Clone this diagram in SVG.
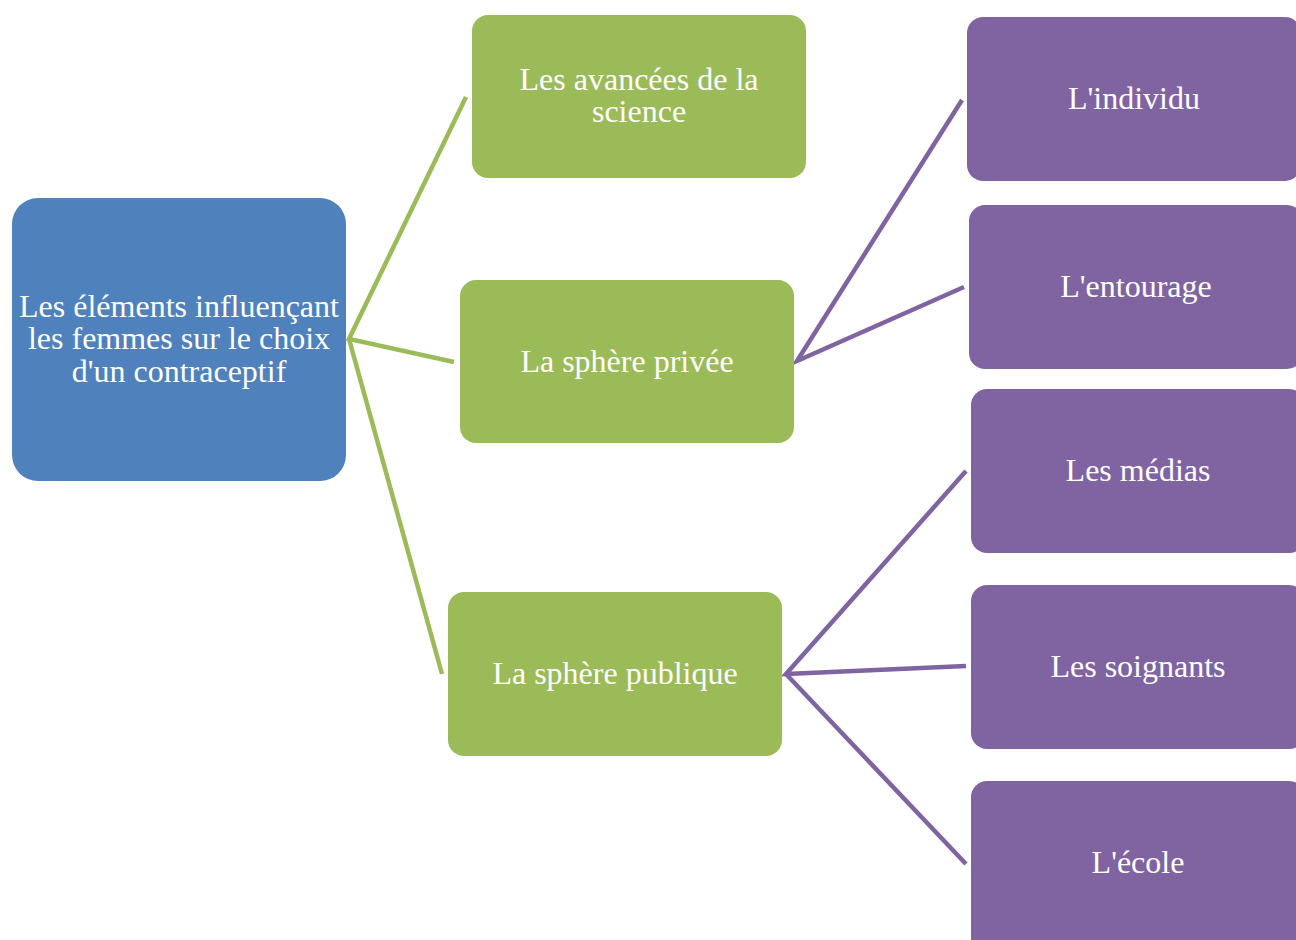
<svg xmlns="http://www.w3.org/2000/svg" width="1296" height="940" viewBox="0 0 1296 940">
<style>
.t{font-family:"Liberation Serif","Times New Roman",serif;font-size:32px;fill:#ffffff;text-anchor:middle}
.blue{fill:#4F81BD}
.green{fill:#9BBB59}
.purple{fill:#8064A2}
.cg{stroke:#9BBB59;stroke-width:4.5;fill:none}
.cp{stroke:#8064A2;stroke-width:4.5;fill:none}
</style>
<rect width="1296" height="940" fill="#ffffff"/>
<g id="connectors">
<polyline class="cg" points="466,97 349,339 454,362"/>
<line class="cg" x1="349" y1="339" x2="442" y2="674"/>
<polyline class="cp" points="962,100 797,361 964,287"/>
<polyline class="cp" points="966,471 786,674 966,666"/>
<line class="cp" x1="786" y1="674" x2="966" y2="864"/>
</g>
<g id="root">
<rect class="blue" x="12" y="198" width="334" height="283" rx="26"/>
<text class="t" x="179" y="316.5">Les éléments influençant</text>
<text class="t" x="179" y="349">les femmes sur le choix</text>
<text class="t" x="179" y="381.5">d'un contraceptif</text>
</g>
<g id="science">
<rect class="green" x="472" y="15" width="334" height="163" rx="16"/>
<text class="t" x="639" y="89.5">Les avancées de la</text>
<text class="t" x="639" y="122">science</text>
</g>
<g id="privee">
<rect class="green" x="460" y="280" width="334" height="163" rx="16"/>
<text class="t" x="627" y="372">La sphère privée</text>
</g>
<g id="publique">
<rect class="green" x="448" y="592" width="334" height="164" rx="16"/>
<text class="t" x="615" y="684">La sphère publique</text>
</g>
<g id="individu">
<rect class="purple" x="967" y="17" width="334" height="164" rx="16"/>
<text class="t" x="1134" y="109">L'individu</text>
</g>
<g id="entourage">
<rect class="purple" x="969" y="205" width="334" height="164" rx="16"/>
<text class="t" x="1136" y="297">L'entourage</text>
</g>
<g id="medias">
<rect class="purple" x="971" y="389" width="334" height="164" rx="16"/>
<text class="t" x="1138" y="481">Les médias</text>
</g>
<g id="soignants">
<rect class="purple" x="971" y="585" width="334" height="164" rx="16"/>
<text class="t" x="1138" y="677">Les soignants</text>
</g>
<g id="ecole">
<rect class="purple" x="971" y="781" width="334" height="175" rx="16"/>
<text class="t" x="1138" y="873">L'école</text>
</g>
</svg>
